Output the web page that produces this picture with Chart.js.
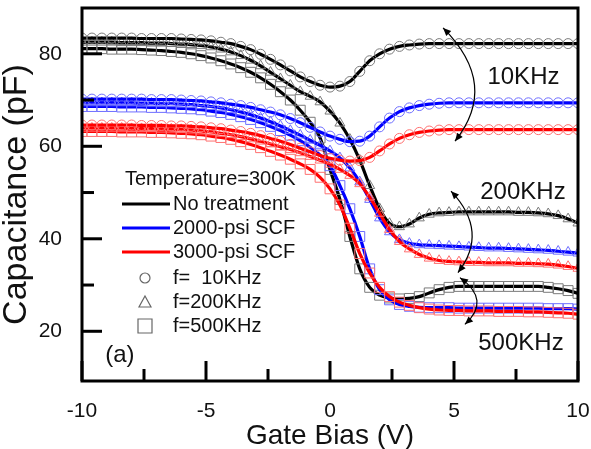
<!DOCTYPE html>
<html><head><meta charset="utf-8">
<script src="https://cdn.jsdelivr.net/npm/chart.js@4/dist/chart.umd.min.js"></script>
<style>html,body{margin:0;padding:0;background:#fff;}</style>
</head><body>
<canvas id="c" width="591" height="449"></canvas>
<script>
// ---------- data ----------
const gateBias = [-10,-9.6,-9.2,-8.8,-8.4,-8,-7.6,-7.2,-6.8,-6.4,-6,-5.6,-5.2,-4.8,-4.4,-4,-3.6,-3.2,-2.8,-2.4,-2,-1.6,-1.2,-0.8,-0.4,0,0.4,0.8,1.2,1.6,2,2.4,2.8,3.2,3.6,4,4.4,4.8,5.2,5.6,6,6.4,6.8,7.2,7.6,8,8.4,8.8,9.2,9.6,10];

const noTreat10k = [83.4,83.4,83.4,83.4,83.4,83.4,83.3,83.3,83.3,83.3,83.2,
  83.1,83.0,82.8,82.5,82.2,81.6,80.9,79.9,78.8,77.6,76.3,75.0,74.0,73.2,72.8,73.0,74.0,76.2,78.5,80.0,81.0,81.6,81.9,82.1,82.2,
  82.2,82.2,82.2,82.2,82.2,82.2,82.2,82.2,82.2,82.2,82.2,82.2,82.2,82.2,82.2];
const noTreat200k = [82.5,82.5,82.5,82.5,82.4,82.4,82.4,82.3,82.3,82.2,82.1,
  82.0,81.8,81.5,81.0,80.4,79.6,78.6,77.4,76.0,74.6,73.2,71.8,70.8,69.6,67.6,65.0,61.5,57.0,51.5,46.5,43.3,42.6,43.2,44.5,45.3,
  45.6,45.7,45.8,45.8,45.8,45.8,45.8,45.8,45.7,45.7,45.6,45.4,45.0,44.3,43.4];
const noTreat500k = [81.1,81.1,81.1,81.0,81.0,81.0,80.9,80.8,80.7,80.5,80.3,
  80.0,79.6,79.1,78.5,77.8,77.0,76.0,74.8,73.4,71.8,70.0,67.8,65.2,61.8,55.0,48.5,40.5,33.5,29.5,27.8,27.2,27.0,27.1,27.5,28.3,
  29.0,29.5,29.7,29.7,29.7,29.7,29.7,29.7,29.7,29.7,29.7,29.5,29.2,28.8,28.2];

const scf2000_10k = [70.2,70.2,70.2,70.2,70.2,70.2,70.2,70.1,70.1,70.1,70.0,
  69.9,69.8,69.6,69.4,69.1,68.8,68.4,67.9,67.4,66.8,66.0,65.1,64.1,63.1,62.2,61.5,61.0,61.1,62.2,64.2,66.1,67.5,68.3,68.8,69.1,69.3,69.4,
  69.4,69.4,69.4,69.4,69.4,69.4,69.4,69.4,69.4,69.4,69.4,69.4,69.4];
const scf2000_200k = [69.4,69.4,69.4,69.4,69.4,69.4,69.3,69.3,69.2,69.2,69.1,
  69.0,68.8,68.6,68.3,67.9,67.4,66.8,66.1,65.3,64.4,63.4,62.4,61.3,60.2,59.0,57.5,55.3,52.3,48.5,44.5,41.5,39.8,39.0,38.7,38.6,
  38.5,38.4,38.3,38.2,38.1,38.0,38.0,37.9,37.8,37.7,37.6,37.5,37.3,37.1,36.9];
const scf2000_500k = [68.6,68.6,68.6,68.6,68.5,68.5,68.5,68.4,68.4,68.3,68.2,
  68.1,67.9,67.6,67.3,66.9,66.4,65.8,65.1,64.3,63.4,62.4,61.2,59.8,58.1,55.8,51.5,46.5,40.5,33.5,29.0,26.8,25.8,25.4,25.2,25.1,
  25.1,25.1,25.0,25.0,25.0,25.0,25.0,25.0,25.0,25.0,25.0,24.9,24.9,24.9,24.8];

const scf3000_10k = [64.6,64.6,64.6,64.6,64.6,64.6,64.5,64.5,64.5,64.4,64.4,
  64.3,64.2,64.0,63.8,63.5,63.2,62.8,62.3,61.7,61.1,60.4,59.6,58.8,58.0,57.4,57.0,56.8,56.9,57.6,59.0,60.5,61.7,62.5,63.0,63.3,63.5,63.6,
  63.6,63.6,63.6,63.6,63.6,63.6,63.6,63.6,63.6,63.6,63.6,63.6,63.6];
const scf3000_200k = [63.9,63.9,63.9,63.9,63.9,63.8,63.8,63.8,63.7,63.7,63.6,
  63.5,63.3,63.1,62.8,62.5,62.1,61.6,61.1,60.5,59.9,59.3,58.6,57.8,57.0,56.1,55.0,53.7,51.9,49.0,45.5,42.0,39.4,37.8,36.6,35.8,
  35.3,35.1,35.0,34.9,34.9,34.8,34.8,34.8,34.7,34.7,34.6,34.5,34.3,34.0,33.6];
const scf3000_500k = [63.2,63.2,63.2,63.2,63.1,63.1,63.1,63.0,63.0,62.9,62.8,
  62.7,62.5,62.2,61.9,61.5,61.0,60.4,59.7,58.9,58.1,57.2,56.2,55.0,53.3,50.8,47.3,42.3,36.8,32.6,29.5,27.5,26.3,25.6,25.1,24.8,
  24.6,24.5,24.5,24.4,24.4,24.4,24.3,24.3,24.3,24.2,24.2,24.1,24.0,23.9,23.7];

const xMajorTicks = [-10,-5,0,5,10];
const xMinorTicks = [-7.5,-2.5,2.5,7.5];
const yMajorTicks = [20,40,60,80];
const yMinorTicks = [30,50,70];

const treatmentLabels = ['No treatment','2000-psi SCF','3000-psi SCF'];
const frequencyLabels = ['f=  10KHz','f=200KHz','f=500KHz'];
const temperatureLabel = 'Temperature=300K';
const xTitle = 'Gate Bias (V)';
const yTitle = 'Capacitance (pF)';

// annotations (data coordinates)
const freqNotes = [
  {text:'10KHz', x:7.8, y:75.0},
  {text:'200KHz', x:7.78, y:50.1},
  {text:'500KHz', x:7.7, y:17.4},
  {text:'(a)', x:-8.47, y:14.8}
];
const arrowNotes = [
  {from:[4.56,85.6], ctrl:[6.85,73.3], to:[5.04,61.1]},
  {from:[4.88,50.3], ctrl:[6.43,41.5], to:[5.16,32.7]},
  {from:[5.24,31.6], ctrl:[6.51,26.7], to:[5.44,21.5]}
];

// ---------- styles ----------
const FONT = '"Liberation Sans", Arial, sans-serif';
const lineColors = ['#000000','#0000ff','#ff0000'];
const markColors = ['#7a7a7a','#6e6eff','#ff7070'];
const markStyles = [
  {style:'circle', r:5},
  {style:'triangle', r:5.8},
  {style:'rect', r:7}
];

const seriesTable = [
  [noTreat10k, noTreat200k, noTreat500k],
  [scf2000_10k, scf2000_200k, scf2000_500k],
  [scf3000_10k, scf3000_200k, scf3000_500k]
];

const datasets = [];
seriesTable.forEach((group, t) => {
  group.forEach((vals, f) => {
    datasets.push({
      label: treatmentLabels[t] + ' ' + frequencyLabels[f],
      data: gateBias.map((x, i) => ({x: x, y: vals[i]})),
      borderColor: lineColors[t],
      borderWidth: 3.2,
      cubicInterpolationMode: 'monotone',
      pointStyle: markStyles[f].style,
      pointRadius: markStyles[f].r,
      pointBorderColor: markColors[t],
      pointBackgroundColor: 'rgba(0,0,0,0)',
      pointBorderWidth: 1,
      order: 3 - t,
      fill: false
    });
  });
});

function drawMarker(ctx, style, x, y, color) {
  ctx.save();
  ctx.strokeStyle = color; ctx.lineWidth = 1.2;
  ctx.beginPath();
  if (style === 'circle') { ctx.arc(x, y, 5, 0, Math.PI*2); }
  else if (style === 'triangle') { ctx.moveTo(x, y-6); ctx.lineTo(x+6, y+5); ctx.lineTo(x-6, y+5); ctx.closePath(); }
  else { ctx.rect(x-7, y-7, 14, 14); }
  ctx.stroke();
  ctx.restore();
}

function arrowHead(ctx, tip, from) {
  const ang = Math.atan2(tip[1]-from[1], tip[0]-from[0]);
  const L = 8, W = 3.5;
  ctx.beginPath();
  ctx.moveTo(tip[0], tip[1]);
  ctx.lineTo(tip[0] - L*Math.cos(ang) + W*Math.sin(ang), tip[1] - L*Math.sin(ang) - W*Math.cos(ang));
  ctx.lineTo(tip[0] - L*Math.cos(ang) - W*Math.sin(ang), tip[1] - L*Math.sin(ang) + W*Math.cos(ang));
  ctx.closePath();
  ctx.fill();
}

const decor = {
  id: 'decor',
  afterDraw(chart) {
    const ctx = chart.ctx, a = chart.chartArea;
    const xs = chart.scales.x, ys = chart.scales.y;
    ctx.save();
    // frame
    ctx.strokeStyle = '#000'; ctx.lineWidth = 3;
    ctx.strokeRect(a.left, a.top, a.right - a.left, a.bottom - a.top);
    // inward ticks
    ctx.lineWidth = 3; ctx.lineCap = 'butt';
    const tick = (px, len, horiz) => {
      ctx.beginPath();
      if (horiz) { ctx.moveTo(px, a.bottom); ctx.lineTo(px, a.bottom - len); }
      else { ctx.moveTo(a.left, px); ctx.lineTo(a.left + len, px); }
      ctx.stroke();
    };
    xMajorTicks.forEach(v => tick(xs.getPixelForValue(v), 20, true));
    xMinorTicks.forEach(v => tick(xs.getPixelForValue(v), 12, true));
    yMajorTicks.forEach(v => tick(ys.getPixelForValue(v), 20, false));
    yMinorTicks.forEach(v => tick(ys.getPixelForValue(v), 12, false));

    // legend
    const lx = a.left, ly = a.top;
    ctx.fillStyle = '#111';
    ctx.font = '20px ' + FONT;
    ctx.textBaseline = 'middle'; ctx.textAlign = 'left';
    ctx.fillText(temperatureLabel, lx + 43, ly + 171);
    const rowY = [196, 220, 244, 270, 294, 318];
    treatmentLabels.forEach((t, i) => {
      const y = ly + rowY[i];
      ctx.strokeStyle = lineColors[i]; ctx.lineWidth = 3;
      ctx.beginPath(); ctx.moveTo(lx + 40, y); ctx.lineTo(lx + 88, y); ctx.stroke();
      ctx.fillStyle = '#111';
      ctx.fillText(t, lx + 91, y);
    });
    frequencyLabels.forEach((t, i) => {
      const y = ly + rowY[3 + i];
      drawMarker(ctx, markStyles[i].style, lx + 63, y, '#666');
      ctx.fillStyle = '#111';
      ctx.fillText(t, lx + 91, y);
    });

    // frequency notes
    ctx.font = '24px ' + FONT;
    ctx.textAlign = 'center';
    freqNotes.forEach(n => {
      ctx.fillText(n.text, xs.getPixelForValue(n.x), ys.getPixelForValue(n.y));
    });

    // curved double arrows
    ctx.strokeStyle = '#000'; ctx.fillStyle = '#000'; ctx.lineWidth = 1.2;
    arrowNotes.forEach(ar => {
      const p0 = [xs.getPixelForValue(ar.from[0]), ys.getPixelForValue(ar.from[1])];
      const pc = [xs.getPixelForValue(ar.ctrl[0]), ys.getPixelForValue(ar.ctrl[1])];
      const p1 = [xs.getPixelForValue(ar.to[0]), ys.getPixelForValue(ar.to[1])];
      ctx.beginPath(); ctx.moveTo(p0[0], p0[1]); ctx.quadraticCurveTo(pc[0], pc[1], p1[0], p1[1]); ctx.stroke();
      arrowHead(ctx, p0, pc);
      arrowHead(ctx, p1, pc);
    });
    ctx.restore();
  }
};

new Chart(document.getElementById('c'), {
  type: 'line',
  data: { datasets: datasets },
  options: {
    responsive: false,
    animation: false,
    devicePixelRatio: 1,
    layout: { padding: { top: 6, right: 13, left: 0, bottom: 0 } },
    plugins: { legend: { display: false }, tooltip: { enabled: false } },
    scales: {
      x: {
        type: 'linear', min: -10, max: 10,
        grid: { display: false, drawTicks: false },
        border: { display: false },
        ticks: { font: { family: FONT, size: 21 }, color: '#111', padding: 18, maxRotation: 0 },
        afterBuildTicks: s => { s.ticks = xMajorTicks.map(v => ({ value: v })); },
        afterFit: s => { s.height = 68; s.paddingLeft = 0; s.paddingRight = 0; },
        title: { display: true, text: xTitle, color: '#111', font: { family: FONT, size: 28, lineHeight: 0.9 }, padding: { top: 0, bottom: 0 } }
      },
      y: {
        type: 'linear', min: 9.25, max: 89.9,
        grid: { display: false, drawTicks: false },
        border: { display: false },
        ticks: { font: { family: FONT, size: 21 }, color: '#111', padding: 20 },
        afterBuildTicks: s => { s.ticks = yMajorTicks.map(v => ({ value: v })); },
        afterFit: s => { s.width = 82; s.paddingTop = 0; s.paddingBottom = 0; },
        title: { display: true, text: yTitle, color: '#111', font: { family: FONT, size: 34, lineHeight: 1.0 }, padding: { top: 0, bottom: 0 } }
      }
    }
  },
  plugins: [decor]
});
</script>
</body></html>
